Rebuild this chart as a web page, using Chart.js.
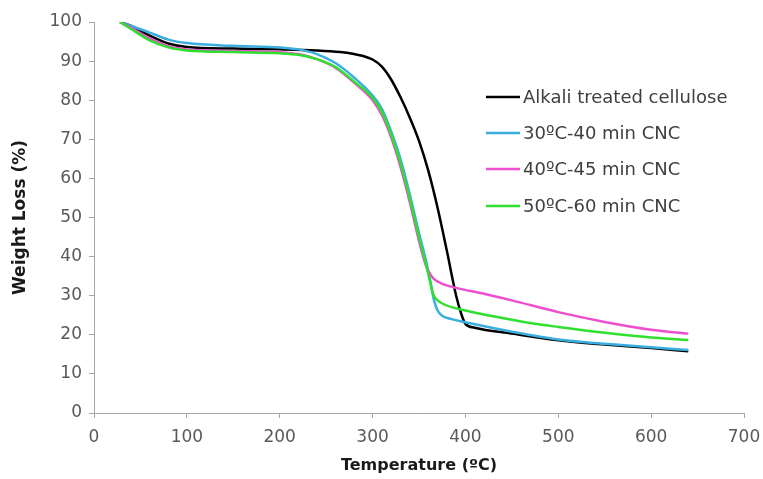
<!DOCTYPE html>
<html>
<head>
<meta charset="utf-8">
<script src="https://cdn.jsdelivr.net/npm/chart.js@4.4.1/dist/chart.umd.min.js"></script>
<style>
  html, body { margin: 0; padding: 0; background: #fff; }
  #wrap { width: 763px; height: 479px; }
</style>
</head>
<body>
<div id="wrap"><canvas id="myChart" width="763" height="479"></canvas></div>
<script>
// data (temperature in degC, weight %)
const seriesNames = ['Alkali treated cellulose', '30\u00BAC-40 min CNC', '40\u00BAC-45 min CNC', '50\u00BAC-60 min CNC'];
const seriesColors = ['#000000', '#3aaede', '#ee4fd0', '#2fe02f'];

const alkaliT = [28, 40, 60, 80, 100, 150, 200, 240, 265, 280, 290, 300, 310, 320, 330, 340, 350, 360, 370, 380, 390, 396, 400, 410, 450, 500, 550, 600, 640];
const alkaliW = [100, 99, 96.5, 94.5, 93.6, 93.2, 93, 92.7, 92.3, 91.8, 91.3, 90.4, 88.6, 85.3, 80.8, 75.6, 69.6, 62, 52.5, 41.5, 30, 25, 22.8, 21.8, 20.3, 18.6, 17.5, 16.6, 15.8];

const cnc30T = [28, 40, 60, 80, 100, 150, 200, 220, 240, 260, 280, 300, 310, 320, 330, 340, 350, 358, 362, 366, 370, 375, 385, 400, 450, 500, 550, 600, 640];
const cnc30W = [100, 99, 97.3, 95.5, 94.6, 93.9, 93.5, 93, 91.8, 89.5, 85.8, 81.2, 77.8, 72, 65, 56, 46, 38.5, 34, 29, 26.2, 24.9, 24, 23.2, 20.8, 18.8, 17.7, 16.8, 16.1];

const cnc40T = [28, 40, 60, 80, 100, 150, 200, 220, 240, 260, 280, 300, 310, 320, 330, 340, 350, 357, 362, 366, 375, 390, 420, 450, 500, 550, 600, 640];
const cnc40W = [100, 98.5, 95.8, 93.8, 93, 92.6, 92.3, 91.8, 90.5, 88.3, 84.5, 80, 76.2, 70.5, 63, 54, 44, 38, 35.5, 34.3, 33, 32, 30.5, 28.8, 25.8, 23.3, 21.3, 20.3];

const cnc50T = [28, 40, 60, 80, 100, 150, 200, 220, 240, 260, 280, 300, 310, 320, 330, 340, 350, 358, 362, 365, 368, 375, 400, 433, 470, 500, 550, 600, 640];
const cnc50W = [100, 98.2, 95.3, 93.5, 92.7, 92.3, 92, 91.6, 90.5, 88.5, 84.8, 80.6, 77, 71.3, 64, 55, 45, 37.5, 33.5, 30.5, 29.3, 28, 26.2, 24.6, 23, 22, 20.5, 19.3, 18.7];

const xTicks = [0, 100, 200, 300, 400, 500, 600, 700];
const yTicks = [0, 10, 20, 30, 40, 50, 60, 70, 80, 90, 100];

function toPoints(xs, ys) {
    return xs.map((x, i) => ({ x: x, y: ys[i] }));
}

const allT = [alkaliT, cnc30T, cnc40T, cnc50T];
const allW = [alkaliW, cnc30W, cnc40W, cnc50W];

// legend drawn inside the plot, like the original
const insideLegend = {
    id: 'insideLegend',
    afterDatasetsDraw(chart) {
        const ctx = chart.ctx;
        const x0 = 486, x1 = 520;
        const rows = [97, 133, 169, 206];
        ctx.save();
        ctx.font = '18px "DejaVu Sans"';
        ctx.textBaseline = 'middle';
        ctx.fillStyle = '#404040';
        seriesNames.forEach((name, i) => {
            ctx.strokeStyle = seriesColors[i];
            ctx.lineWidth = 2.5;
            ctx.beginPath();
            ctx.moveTo(x0, rows[i]);
            ctx.lineTo(x1, rows[i]);
            ctx.stroke();
            ctx.fillText(name, x1 + 3, rows[i] + 1);
        });
        ctx.restore();
    }
};

const ctx = document.getElementById('myChart');
// black drawn last so it sits on top, as in the picture
new Chart(ctx.getContext('2d'), {
    type: 'line',
    data: {
        datasets: seriesNames.map((name, i) => ({
            label: name,
            data: toPoints(allT[i], allW[i]),
            borderColor: seriesColors[i],
            borderWidth: 2.5,
            pointRadius: 0,
            fill: false,
            cubicInterpolationMode: 'monotone'
        })).reverse()
    },
    options: {
        responsive: false,
        animation: false,
        layout: { padding: { left: 0, right: 19, top: 22, bottom: 0 } },
        plugins: {
            legend: { display: false },
            tooltip: { enabled: false }
        },
        scales: {
            x: {
                type: 'linear',
                min: 0,
                max: 700,
                afterBuildTicks: (scale) => { scale.ticks = xTicks.map(v => ({ value: v })); },
                afterFit: (scale) => {
                    scale.height = 66;
                    scale.paddingLeft = 0;
                    scale.paddingRight = 0;
                },
                grid: { drawOnChartArea: false, drawTicks: true, tickLength: 5, color: '#a6a6a6' },
                border: { display: true, color: '#a6a6a6', width: 1 },
                ticks: { color: '#595959', font: { family: 'DejaVu Sans', size: 17 }, padding: 9, maxRotation: 0 },
                title: {
                    display: true,
                    text: 'Temperature (\u00BAC)',
                    color: '#1a1a1a',
                    font: { family: 'DejaVu Sans', size: 16, weight: 'bold' },
                    padding: { top: 0, bottom: 4 }
                }
            },
            y: {
                type: 'linear',
                min: 0,
                max: 100,
                afterBuildTicks: (scale) => { scale.ticks = yTicks.map(v => ({ value: v })); },
                afterFit: (scale) => { scale.width = 94; },
                grid: { drawOnChartArea: false, drawTicks: true, tickLength: 5, color: '#a6a6a6' },
                border: { display: true, color: '#a6a6a6', width: 1 },
                ticks: { color: '#595959', font: { family: 'DejaVu Sans', size: 17 }, padding: 7 },
                title: {
                    display: true,
                    text: 'Weight Loss (%)',
                    color: '#1a1a1a',
                    font: { family: 'DejaVu Sans', size: 17, weight: 'bold' },
                    padding: { top: 10, bottom: 0 }
                }
            }
        }
    },
    plugins: [insideLegend]
});
</script>
</body>
</html>
